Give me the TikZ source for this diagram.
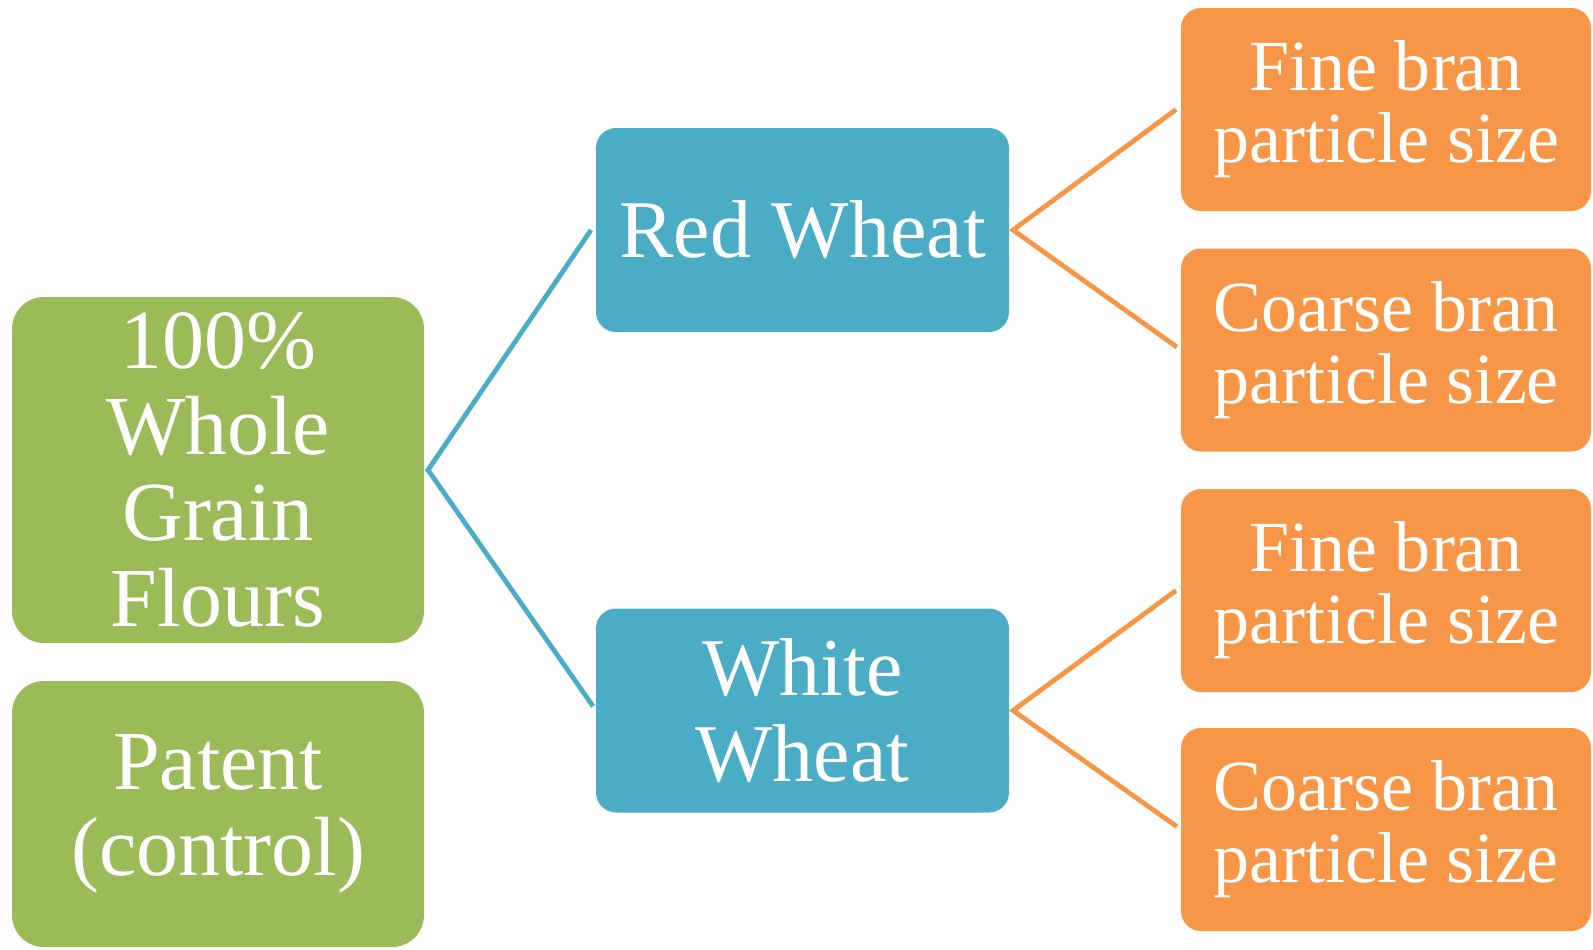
\documentclass[tikz,border=0pt]{standalone}
\usepackage{fontspec}
\setmainfont{Liberation Serif}
\definecolor{accG}{HTML}{9BBB59}
\definecolor{accB}{HTML}{4BACC6}
\definecolor{accO}{HTML}{F79646}
\tikzset{
  box/.style={rectangle, inner sep=0pt, outer sep=0pt, text=white, align=center, draw=none},
  gbox/.style={box, fill=accG, rounded corners=16pt, minimum width=206pt, font=\fontsize{42}{43}\selectfont},
  bbox/.style={box, fill=accB, rounded corners=10pt, minimum width=206.5pt, minimum height=102pt, font=\fontsize{41}{43}\selectfont},
  obox/.style={box, fill=accO, rounded corners=10pt, minimum width=205pt, minimum height=101.5pt, font=\fontsize{36}{36}\selectfont},
  bline/.style={draw=accB, line width=2.4pt, line join=miter, shorten >=2.5pt},
  oline/.style={draw=accO, line width=2.4pt, line join=miter, shorten >=2.5pt}
}
\begin{document}
\begin{tikzpicture}[x=0.5pt,y=-0.5pt]
\useasboundingbox (0,0) rectangle (1593,949);
\node[gbox, minimum height=173pt] (g1) at (218,470) {100\%\\Whole\\Grain\\Flours};
\node[gbox, minimum height=133pt] (g2) at (218,814) {Patent\\(control)};
\node[bbox] (b1) at (802.5,230) {Red Wheat};
\node[bbox] (b2) at (802.5,710.5) {White\\Wheat};
\node[obox] (o1) at (1386,109.5) {Fine bran\\particle size};
\node[obox] (o2) at (1386,350) {Coarse bran\\particle size};
\node[obox] (o3) at (1386,590.5) {Fine bran\\particle size};
\node[obox] (o4) at (1386,829.5) {Coarse bran\\particle size};
\coordinate (ga) at ([xshift=2pt]g1.east);
\coordinate (b1a) at ([xshift=2pt]b1.east);
\coordinate (b2a) at ([xshift=2pt]b2.east);
\draw[bline] (b1.west) ++(-2.5pt,0) coordinate (b1w) (b1w) -- (ga) -- (b2.west);
\draw[oline] (o1.west) ++(-2.5pt,0) coordinate (o1w) (o1w) -- (b1a) -- (o2.west);
\draw[oline] (o3.west) ++(-2.5pt,0) coordinate (o3w) (o3w) -- (b2a) -- (o4.west);
\end{tikzpicture}
\end{document}
